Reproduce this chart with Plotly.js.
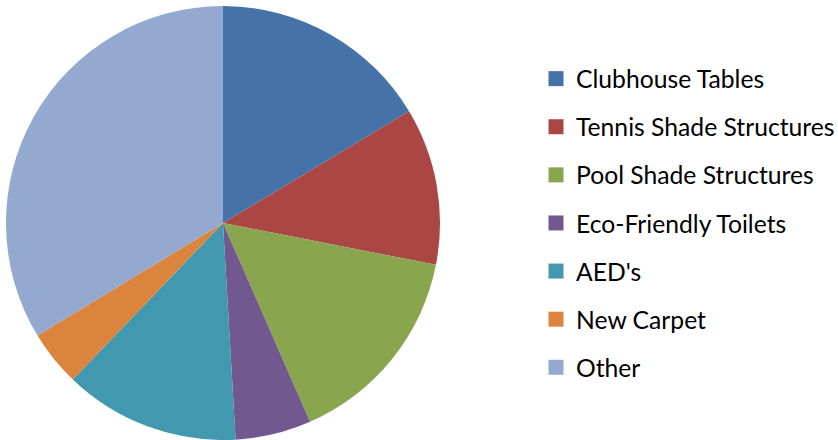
<!DOCTYPE html>
<html>
<head>
<meta charset="utf-8">
<script src="https://cdn.plot.ly/plotly-3.0.1.min.js"></script>
<style>html,body{margin:0;padding:0;background:#fff;}#chart{width:838px;height:440px;}</style>
</head>
<body>
<div id="chart"></div>
<script>
const categories = ["Clubhouse Tables", "Tennis Shade Structures", "Pool Shade Structures", "Eco-Friendly Toilets", "AED's", "New Carpet", "Other"];
const values = [16.4, 11.7, 15.35, 5.65, 13.1, 4.15, 33.7];
const colors = ["#4572A7", "#AA4643", "#89A54E", "#71588F", "#4198AF", "#DB843D", "#93A9CF"];

const traces = [{
  type: "pie",
  labels: categories,
  values: values,
  sort: false,
  direction: "clockwise",
  rotation: 0,
  textinfo: "none",
  hoverinfo: "label+percent",
  marker: {colors: colors, line: {width: 0}},
  domain: {x: [6/838, 440/838], y: [0, 434/440]},
  showlegend: false
}];

categories.forEach((c, i) => {
  traces.push({
    type: "scatter",
    mode: "markers",
    x: [null], y: [null],
    name: c,
    legendgroup: "g" + i,
    marker: {symbol: "square", size: 15, color: colors[i]},
    hoverinfo: "skip"
  });
});

const layout = {
  width: 838, height: 440,
  margin: {l: 0, r: 0, t: 0, b: 0, autoexpand: false},
  paper_bgcolor: "#fff", plot_bgcolor: "#fff",
  font: {family: "Lato, sans-serif", size: 24.7, color: "#000"},
  xaxis: {visible: false}, yaxis: {visible: false},
  legend: {
    x: 536/838, xanchor: "left", y: 0.493, yanchor: "middle",
    tracegroupgap: 13, itemwidth: 30,
    bgcolor: "rgba(0,0,0,0)", font: {family: "Lato, sans-serif", size: 24.7, color: "#000"}
  },
  showlegend: true
};

Plotly.newPlot("chart", traces, layout, {displayModeBar: false, staticPlot: true});
</script>
</body>
</html>
